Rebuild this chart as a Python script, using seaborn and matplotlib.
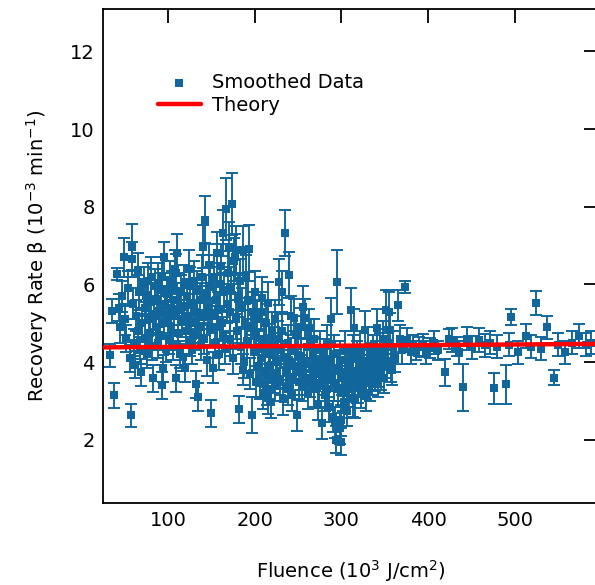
import numpy as np
import pandas as pd
import matplotlib
matplotlib.use("Agg")
import matplotlib.pyplot as plt
import seaborn as sns

# ---- data ----
pts = [
(33,4.18,.3),(36,5.32,.3),(38,3.15,.32),(41,6.27,.15),(43,5.4,.35),(45,4.9,.4),(47,5.7,.4),(49,6.7,.5),
(50,5.1,.4),(52,4.6,.35),(54,5.9,.45),(56,4.1,.35),(57,2.63,.3),(58,6.97,.6),(59,6.65,.45),(60,5.5,.4),
(61,4.5,.35),(62,3.93,.35),(63,5.2,.4),(65,6.37,.45),(66,4.8,.4),(67,5.8,.45),(68,4.3,.35),(69,3.74,.35),
(70,5.0,.4),(72,6.0,.45),(73,5.4,.4),(74,4.6,.4),(75,5.7,.45),(76,4.2,.35),(77,6.1,.45),(78,5.1,.4),
(79,4.75,.4),(80,5.55,.45),(81,6.2,.5),(82,4.4,.35),(83,3.58,.35),(84,5.25,.4),(85,5.95,.45),(86,4.9,.4),
(87,5.6,.45),(88,4.5,.4),(89,6.05,.5),(90,5.3,.4),(91,4.7,.4),(92,5.85,.45),(93,3.4,.35),(93,6.2,.5),
(94,3.84,.35),(95,6.7,.4),(96,5.0,.4),(97,5.5,.45),(98,4.35,.35),(99,5.75,.45),(100,5.15,.4),(101,4.6,.4),
(102,6.1,.5),(103,5.4,.45),(104,4.9,.4),(105,5.9,.45),(106,4.4,.35),(107,5.2,.4),(108,6.4,.5),(109,3.58,.35),
(109,6.29,.5),(110,6.8,.5),(111,5.6,.45),(112,4.75,.4),(113,5.35,.4),(114,4.2,.35),(115,5.8,.45),(116,5.05,.4),
(117,4.13,.35),(118,6.0,.5),(119,5.45,.45),(120,3.85,.35),(121,4.8,.4),(122,5.7,.45),(123,5.2,.4),(124,6.4,.5),
(125,4.55,.4),(126,5.95,.5),(127,5.0,.4),(128,4.3,.35),(129,5.5,.45),(130,6.1,.5),(131,4.7,.4),(132,3.43,.35),
(133,5.3,.45),(134,5.85,.5),(135,3.1,.35),(136,4.9,.4),(137,5.6,.45),(138,4.45,.4),(139,6.2,.55),(140,6.97,.55),
(141,5.15,.45),(142,4.6,.4),(143,7.67,.6),(144,5.75,.5),(145,4.05,.4),(146,5.4,.45),(147,6.5,.55),(148,4.85,.45),
(149,5.95,.5),(150,2.68,.35),(151,5.2,.45),(152,3.85,.4),(153,6.2,.55),(154,4.5,.4),(155,5.6,.5),(156,6.8,.55),
(157,4.9,.45),(158,5.35,.45),(159,4.2,.4),(160,6.0,.55),(161,6.48,.55),(162,5.0,.45),(163,7.33,.6),(164,4.7,.45),
(165,5.8,.5),(166,4.35,.4),(167,7.95,.8),(168,5.5,.5),(169,6.3,.55),(170,6.97,.65),(171,4.6,.45),(172,5.3,.5),
(173,5.9,.55),(174,8.07,.8),(175,4.1,.4),(176,6.6,.6),(177,6.7,.6),(178,5.1,.5),(179,6.9,.6),(180,4.8,.45),
(181,5.7,.55),(182,2.79,.35),(183,6.1,.55),(184,4.4,.45),(185,5.4,.5),(186,6.9,.6),(187,3.8,.4),(188,4.0,.4),
(189,5.0,.5),(190,6.2,.55),(191,4.55,.45),(192,5.6,.5),(194,6.92,.6),(195,3.7,.4),(196,4.9,.45),(197,2.63,.46),
(198,5.3,.5),(199,4.25,.45),(200,5.8,.55),(201,3.5,.4),(202,4.7,.45),(203,5.1,.5),(204,3.9,.4),(205,4.4,.45),
(206,3.46,.4),(207,5.3,.5),(208,5.65,.55),(209,4.1,.45),(210,3.2,.4),(211,4.6,.45),(212,3.75,.4),(213,5.0,.5),
(214,3.3,.4),(215,5.52,.55),(215,3.07,.4),(216,4.25,.45),(217,3.9,.4),(218,4.2,.45),(219,2.97,.4),(220,4.8,.5),
(221,3.6,.4),(222,4.45,.45),(223,3.4,.4),(224,5.1,.5),(225,4.0,.45),(226,3.7,.4),(227,4.6,.45),(228,6.06,.6),
(229,3.55,.4),(230,4.3,.45),(231,4.8,.5),(232,5.8,.55),(233,3.05,.4),(234,4.1,.45),(235,7.33,.6),(236,3.8,.4),
(237,3.74,.4),(238,4.5,.45),(239,3.3,.4),(240,6.24,.6),(241,4.0,.45),(242,5.2,.5),(243,3.15,.4),(244,3.6,.45),
(245,5.13,.5),(246,4.35,.45),(247,3.9,.45),(248,4.7,.5),(249,2.63,.4),(250,4.18,.45),(251,3.5,.45),(252,3.74,.45),
(253,4.9,.5),(254,4.15,.45),(255,3.4,.4),(256,5.42,.55),(257,3.95,.45),(258,5.13,.5),(259,3.6,.45),(260,4.4,.45),
(261,3.2,.4),(263,4.87,.5),(264,3.55,.45),(265,4.6,.5),(266,3.85,.45),(267,4.2,.45),(268,3.3,.45),(269,4.6,.5),
(270,3.7,.45),(271,4.0,.45),(273,2.9,.4),(274,3.45,.45),(275,4.3,.5),(276,3.8,.45),(278,2.43,.4),(279,3.6,.45),
(280,4.1,.5),(281,3.15,.4),(282,3.9,.45),(283,3.3,.45),(284,4.45,.5),(285,3.55,.45),(286,2.85,.4),(287,4.05,.45),
(288,5.1,.55),(289,3.7,.45),(290,2.6,.4),(291,3.45,.45),(292,4.2,.5),(293,2.45,.4),(294,2.0,.35),(295,6.06,.83),
(296,3.3,.45),(297,3.85,.45),(298,2.3,.4),(299,4.05,.5),(300,1.95,.35),(300,2.5,.4),(301,3.6,.45),(302,3.2,.45),
(303,2.97,.4),(304,4.3,.5),(305,3.75,.45),(306,3.45,.45),(307,2.75,.4),(308,4.0,.45),(309,3.3,.45),(310,3.9,.45),
(311,5.35,.55),(312,3.6,.45),(313,4.2,.5),(314,3.05,.45),(315,4.87,.5),(316,3.02,.45),(317,3.7,.45),(318,4.1,.45),
(319,3.4,.45),(320,3.8,.45),(321,4.3,.5),(322,3.55,.45),(323,3.28,.45),(324,4.0,.45),(325,3.65,.45),(326,3.87,.45),
(327,4.82,.5),(328,3.5,.45),(329,3.15,.4),(330,3.95,.45),(331,4.4,.5),(332,3.74,.45),(333,3.46,.45),(334,4.05,.45),
(335,3.6,.45),(336,3.98,.45),(337,4.25,.45),(338,3.85,.45),(339,3.7,.45),(340,4.1,.45),(341,4.87,.5),(342,3.55,.45),
(343,4.0,.45),(344,3.8,.45),(345,4.3,.45),(346,3.74,.45),(347,3.95,.4),(348,4.6,.45),(349,3.6,.4),(350,4.2,.4),
(352,5.35,.5),(353,4.0,.4),(354,4.5,.4),(355,5.3,.5),(356,4.82,.45),(357,3.9,.4),(358,3.8,.4),(360,4.4,.4),
(362,4.1,.35),(365,5.47,.4),(368,4.6,.35),(370,4.3,.35),(373,5.93,.15),(376,4.57,.3),(380,4.25,.3),(383,4.45,.25),
(386,4.3,.25),(390,4.4,.25),(394,4.43,.3),(398,4.25,.3),(402,4.36,.25),(407,4.5,.3),(412,4.3,.25),(420,3.74,.35),
(424,4.6,.25),(428,4.57,.3),(433,4.4,.25),(436,4.25,.3),(440,3.35,.6),(445,4.6,.3),(451,4.38,.3),(459,4.57,.3),
(466,4.43,.3),(471,4.5,.3),(476,3.33,.4),(480,4.4,.3),(490,3.43,.5),(493,4.45,.3),(496,5.16,.2),(504,4.25,.3),
(513,4.67,.3),(519,4.4,.3),(525,5.52,.3),(530,4.35,.3),(537,4.9,.3),(545,3.6,.2),(550,4.45,.3),(558,4.25,.3),
(566,4.5,.3),(574,4.67,.3),(582,4.45,.3),(588,4.5,.3),
]
fluence = [p[0] for p in pts]
beta = [p[1] for p in pts]
beta_err = [p[2] for p in pts]

theory_x = [25, 596]
theory_y = [4.38, 4.47]

x_ticks = [100, 200, 300, 400, 500]
y_ticks = [2, 4, 6, 8, 10, 12]

# ---- style ----
sns.set_theme(style="white")
plt.rcParams['font.family'] = ['DejaVu Sans']
plt.rcParams['text.color'] = 'black'
plt.rcParams['axes.labelcolor'] = 'black'
blue = "#11679c"
red = "#ff0000"

fig = plt.figure(figsize=(5.95, 5.85), dpi=100)
ax = fig.add_axes([0.173, 0.140, 0.832, 0.845])

df = pd.DataFrame({"fluence": fluence, "beta": beta, "err": beta_err})

ax.errorbar(df["fluence"], df["beta"], yerr=df["err"], fmt="none",
            ecolor=blue, elinewidth=1.4, capsize=4, capthick=1.4, zorder=2)
sns.scatterplot(data=df, x="fluence", y="beta", marker="s", s=36, color=blue,
                edgecolor=blue, linewidth=0, ax=ax, zorder=3, label="Smoothed Data")
sns.lineplot(x=theory_x, y=theory_y, color=red, linewidth=3.2, ax=ax, zorder=4,
             label="Theory")

ax.set_xlim(25, 596)
ax.set_ylim(0.37, 13.1)
ax.set_xticks(x_ticks)
ax.set_yticks(y_ticks)
ax.tick_params(direction="in", length=10, width=1.3, top=True, right=True,
               labelsize=14, colors="black", labelcolor="black", pad=6)
for s in ax.spines.values():
    s.set_visible(True)
    s.set_color("black")
    s.set_linewidth(1.3)

ax.set_xlabel("Fluence (10$^3$ J/cm$^2$)", fontsize=14, labelpad=20, color="black")
ax.set_ylabel("Recovery Rate β (10$^{-3}$ min$^{-1}$)", fontsize=14, labelpad=14,
              color="black")

leg = ax.legend(loc="upper left", bbox_to_anchor=(0.095, 0.885), frameon=False,
                fontsize=14, handlelength=2.2, handletextpad=0.6, borderaxespad=0,
                labelspacing=0.2)
for t in leg.get_texts():
    t.set_color("black")

fig.savefig("out.png", dpi=100)
